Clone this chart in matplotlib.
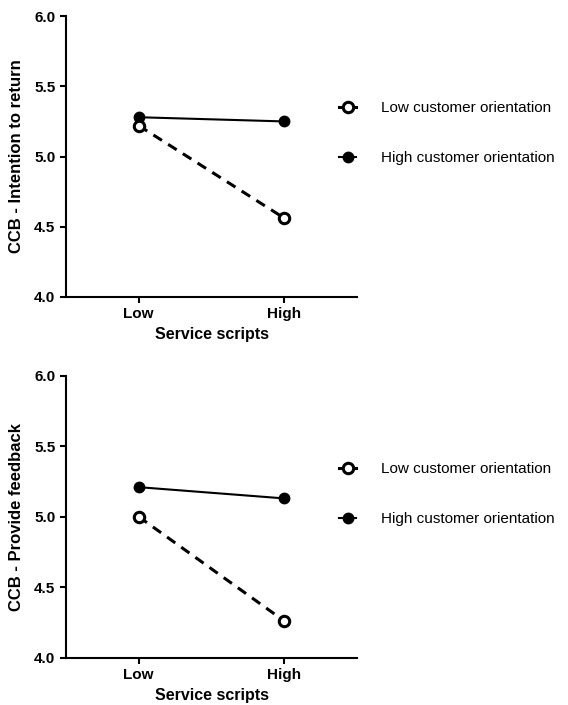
import matplotlib
matplotlib.use("Agg")
import matplotlib.pyplot as plt
from matplotlib.lines import Line2D

plt.rcParams['font.family'] = ['Liberation Sans', 'DejaVu Sans']

categories = ["Low", "High"]
series_names = ["Low customer orientation", "High customer orientation"]
return_low_co = [5.22, 4.56]
return_high_co = [5.28, 5.25]
feedback_low_co = [5.00, 4.26]
feedback_high_co = [5.21, 5.13]
y_ticks = [4.0, 4.5, 5.0, 5.5, 6.0]
y_labels = ["CCB - Intention to return", "CCB - Provide feedback"]
x_label = "Service scripts"

fig = plt.figure(figsize=(5.68, 7.05), dpi=100)
ax1 = fig.add_axes([0.116, 0.579, 0.513, 0.398])
ax2 = fig.add_axes([0.116, 0.067, 0.513, 0.400])

x = list(range(len(categories)))
legend_tops = [0.876, 0.364]
for ax, low, high, ylab, ltop in [(ax1, return_low_co, return_high_co, y_labels[0], legend_tops[0]),
                                  (ax2, feedback_low_co, feedback_high_co, y_labels[1], legend_tops[1])]:
    ax.plot(x, high, color='black', lw=1.5, marker='o', ms=7.5,
            mfc='black', mec='black', zorder=3)
    ax.plot(x, low, color='black', lw=2.2, ls=(0, (3.3, 2.4)), marker='o', ms=7.5,
            mfc='white', mec='black', mew=2.2, zorder=4)
    ax.set_xlim(-0.5, 1.5)
    ax.set_ylim(4.0, 6.0)
    ax.set_yticks(y_ticks)
    ax.set_yticklabels([f"{v:.1f}" for v in y_ticks])
    ax.set_xticks(x)
    ax.set_xticklabels(categories)
    for s in ['top', 'right']:
        ax.spines[s].set_visible(False)
    for s in ['left', 'bottom']:
        ax.spines[s].set_linewidth(1.5)
    ax.tick_params(axis='both', direction='out', width=1.5, length=4,
                   labelsize=11)
    for lab in ax.get_xticklabels() + ax.get_yticklabels():
        lab.set_fontweight('bold')
    ax.set_ylabel(ylab, fontsize=12, fontweight='bold', labelpad=7)
    ax.set_xlabel(x_label, fontsize=11.5, fontweight='bold', labelpad=4)

    handles = [
        Line2D([0], [0], color='black', lw=2.2, marker='o', ms=7.5,
               mfc='white', mec='black', mew=2.2),
        Line2D([0], [0], color='black', lw=1.5, marker='o', ms=7.5,
               mfc='black', mec='black'),
    ]
    fig.legend(handles, series_names, loc='upper left',
               bbox_to_anchor=(0.573, ltop), bbox_transform=fig.transFigure,
               frameon=False, fontsize=11,
               handlelength=1.1, labelspacing=2.35, handletextpad=1.65)

fig.savefig("out.png", dpi=100)
